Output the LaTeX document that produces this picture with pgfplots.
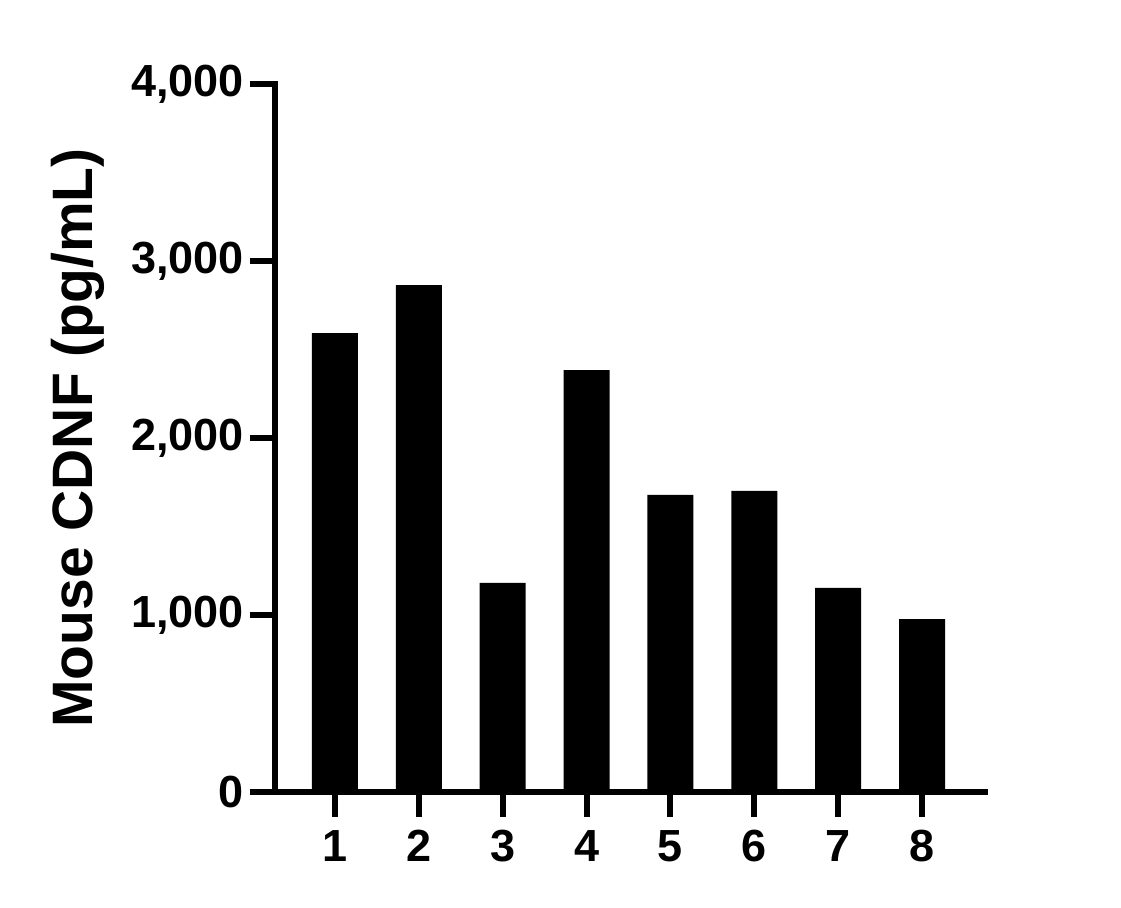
\documentclass[border=0pt]{standalone}
\usepackage{fontspec}
\setmainfont{Liberation Sans}
\usepackage{pgfplots}
\pgfplotsset{compat=1.18}
\begin{document}
\begin{tikzpicture}
\useasboundingbox (-137.5pt,-58pt) rectangle (423pt,396pt);
\begin{axis}[
  at={(0,0)}, anchor=origin,
  scale only axis,
  width=355pt, height=354pt,
  xmin=0.2845, xmax=8.751,
  ymin=0, ymax=4000,
  axis lines*=left,
  axis line style={line width=3pt, line cap=rect},
  every tick/.style={line width=3pt, black},
  tick align=outside,
  major tick length=12.5pt,
  xtick={1,2,3,4,5,6,7,8},
  ytick={0,1000,2000,3000,4000},
  minor tick num=0,
  /pgf/number format/assume math mode=true,
  /pgf/number format/1000 sep={,},
  tick label style={font=\fontsize{22.5pt}{26pt}\selectfont\bfseries},
  yticklabel style={xshift=0.5pt},
  xticklabel style={yshift=-3pt},
  ylabel={Mouse CDNF (pg/mL)},
  every axis y label/.style={at={(axis description cs:-0.2775,0.5)}, rotate=90, anchor=center, font=\fontsize{28.5pt}{32pt}\selectfont\bfseries},
  clip=false,
]
\addplot[ybar, bar width=23pt, fill=black, draw=none] coordinates {
(1,2593) (2,2864) (3,1181) (4,2384) (5,1678) (6,1701) (7,1153) (8,977)
};
\end{axis}
\end{tikzpicture}
\end{document}
